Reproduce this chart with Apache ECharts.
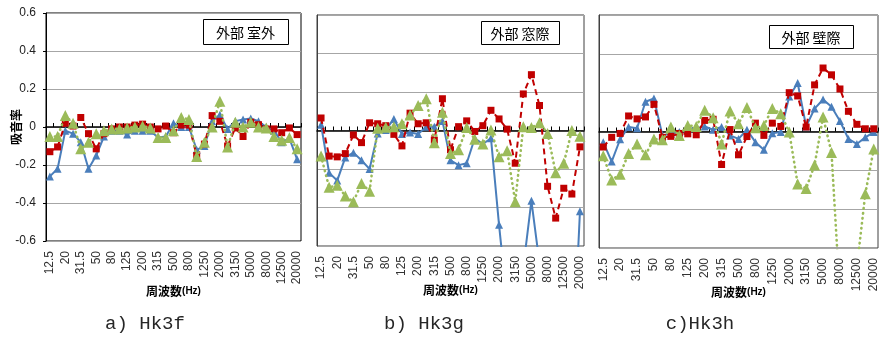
<!DOCTYPE html>
<html><head><meta charset="utf-8">
<script src="https://cdn.jsdelivr.net/npm/echarts@6/dist/echarts.min.js"></script>
<style>html,body{margin:0;padding:0;background:#fff}#c{width:885px;height:338px}</style>
</head><body><div id="c"></div>
<script>
// 1/3 octave band centre frequencies (Hz)
const freqs = ['12.5','16','20','25','31.5','40','50','63','80','100','125','160','200','250','315','400','500','630','800','1000','1250','1600','2000','2500','3150','4000','5000','6300','8000','10000','12500','16000','20000'];
const yTicks = [-0.6, -0.4, -0.2, 0, 0.2, 0.4, 0.6];

// a) Hk3f  外部 室外
const hk3fBlue  = [-0.26,-0.22,-0.02,-0.035,-0.08,-0.22,-0.15,-0.05,-0.02,-0.02,-0.04,-0.02,-0.02,-0.02,-0.055,-0.05,0.02,0.0,0.0,-0.12,-0.10,0.03,0.065,-0.01,0.03,0.04,0.045,0.03,0.0,-0.02,-0.08,-0.06,-0.17];
const hk3fRed   = [-0.13,-0.105,0.02,0.005,0.05,-0.035,-0.115,-0.035,-0.01,0.0,0.0,0.01,0.015,0.0,-0.01,0.005,-0.03,0.01,0.01,-0.15,-0.09,0.06,0.03,-0.1,-0.005,-0.05,0.025,0.012,-0.01,-0.01,-0.03,-0.005,-0.04];
const hk3fGreen = [-0.05,-0.05,0.06,0.02,-0.115,-0.08,-0.035,-0.02,-0.01,-0.01,-0.005,0.0,0.005,-0.005,-0.055,-0.055,-0.02,0.05,0.04,-0.155,-0.08,0.0,0.135,-0.105,0.025,0.0,0.025,0.0,-0.005,-0.05,-0.07,-0.055,-0.115];

// b) Hk3g  外部 窓際
const hk3gBlue  = [0.03,-0.22,-0.26,-0.14,-0.115,-0.155,-0.2,-0.015,0.003,0.06,-0.018,-0.01,-0.018,0.02,0.02,0.05,-0.155,-0.18,-0.17,-0.04,-0.07,-0.04,-0.49,-0.9,-1.0,-0.71,-0.365,-0.69,-1.0,-1.0,-1.0,-1.32,-0.42];
const hk3gRed   = [0.065,-0.133,-0.137,-0.12,-0.023,-0.063,0.04,0.035,0.025,-0.02,-0.08,0.09,0.035,0.04,-0.05,0.165,-0.10,0.02,0.05,-0.005,0.025,0.105,0.06,0.007,-0.17,0.19,0.29,0.13,-0.29,-0.455,-0.30,-0.33,-0.085];
const hk3gGreen = [-0.133,-0.295,-0.285,-0.34,-0.37,-0.275,-0.315,0.012,0.017,0.02,0.035,0.08,0.13,0.165,-0.063,0.095,-0.12,-0.1,0.015,-0.045,-0.07,0.003,-0.137,-0.105,-0.37,0.02,0.015,0.04,-0.015,-0.22,-0.17,0.0,-0.03];

// c) Hk3h  外部 壁際
const hk3hBlue  = [-0.055,-0.155,-0.04,0.023,0.017,0.153,0.17,-0.02,-0.012,-0.003,0.014,0.017,0.026,0.009,0.023,-0.02,-0.038,0.009,-0.055,-0.094,-0.009,-0.003,0.18,0.25,0.026,0.118,0.165,0.127,0.054,-0.038,-0.064,-0.03,-0.003];
const hk3hRed   = [-0.08,-0.03,-0.01,0.08,0.065,0.075,0.14,-0.03,-0.025,-0.01,-0.012,-0.017,0.057,0.063,-0.17,0.01,-0.12,-0.026,0.043,-0.02,0.043,0.026,0.2,0.183,0.023,0.24,0.327,0.292,0.219,0.104,0.037,0.014,0.014];
const hk3hGreen = [-0.125,-0.25,-0.22,-0.113,-0.064,-0.12,-0.038,-0.043,0.023,-0.02,0.031,0.026,0.11,0.071,-0.064,0.106,0.04,0.123,0.019,0.031,0.118,0.092,-0.003,-0.27,-0.294,-0.172,0.075,-0.108,-0.85,-1.0,-0.7,-0.32,-0.09];

const panelLabels = ['外部 室外', '外部 窓際', '外部 壁際'];
const captions = ['a) Hk3f', 'b) Hk3g', 'c)Hk3h'];
const panels = [
  [hk3fBlue, hk3fRed, hk3fGreen],
  [hk3gBlue, hk3gRed, hk3gGreen],
  [hk3hBlue, hk3hRed, hk3hGreen]
];

const grids = [
  {left: 46, top: 13, width: 255, height: 228},
  {left: 317, top: 15, width: 267, height: 231},
  {left: 599, top: 15, width: 279, height: 233}
];
const nameGaps = [44, 38, 38];
const boxes = [
  {x: 203, y: 19, w: 85, h: 25},
  {x: 481, y: 21, w: 78, h: 23},
  {x: 769, y: 25, w: 84, h: 23}
];
const capX = [145, 424, 700];

const styles = [
  {color: '#4A7EBB', symbol: 'triangle', symbolSize: 8, line: {type: 'solid', width: 2}},
  {color: '#C00000', symbol: 'rect', symbolSize: 7, line: {type: [6, 4], width: 2}},
  {color: '#9BBB59', symbol: 'triangle', symbolSize: 11, line: {type: [0.5, 4.5], width: 2.6, cap: 'round'}}
];

const xAxis = [], yAxis = [], series = [], graphic = [];
grids.forEach((g, i) => {
  g.show = true;
  g.borderColor = i === 0 ? '#000' : '#404040';
  g.borderWidth = 1;
  g.backgroundColor = 'transparent';
  // zero line axis with ticks
  xAxis.push({
    type: 'category', data: freqs, gridIndex: i, boundaryGap: true,
    axisLine: {show: true, onZero: true, lineStyle: {color: '#000', width: 1.5}},
    axisTick: {show: true, inside: true, length: 4, interval: 0, lineStyle: {color: '#000'}},
    axisLabel: {show: false}, splitLine: {show: false}
  });
  // bottom label axis
  xAxis.push({
    type: 'category', data: freqs, gridIndex: i, boundaryGap: true, position: 'bottom',
    axisLine: {show: false, onZero: false}, axisTick: {show: false}, splitLine: {show: false},
    axisLabel: {show: true, rotate: 90, interval: 1, margin: 10, fontSize: 12,
      fontFamily: 'Liberation Sans', color: '#333'},
    name: '{a|周波数}{b|(Hz)}', nameLocation: 'middle', nameGap: nameGaps[i], nameMoveOverlap: false,
    nameTextStyle: {rich: {
      a: {fontFamily: 'Noto Sans CJK JP', fontWeight: 'bold', fontSize: 12, color: '#000'},
      b: {fontFamily: 'Liberation Sans', fontWeight: 'bold', fontSize: 10, color: '#000'}
    }}
  });
  yAxis.push({
    type: 'value', gridIndex: i, min: -0.6, max: 0.6, interval: 0.2,
    axisLine: {show: true, lineStyle: {color: i === 0 ? '#000' : '#404040'}},
    axisTick: {show: i === 0, length: 3, lineStyle: {color: '#000'}},
    axisLabel: {show: i === 0, fontSize: 12, fontFamily: 'Liberation Sans', color: '#222', margin: 10,
      formatter: v => String(Math.round(v * 10) / 10)},
    splitLine: {show: true, lineStyle: {color: '#A6A6A6', width: 1}},
    name: i === 0 ? '吸音率' : '', nameLocation: 'middle', nameGap: 24, nameMoveOverlap: false,
    nameTextStyle: {fontFamily: 'Noto Sans CJK JP', fontWeight: 'bold', fontSize: 12, color: '#000'}
  });
  panels[i].forEach((data, k) => {
    const s = styles[k];
    series.push({
      type: 'line', xAxisIndex: 2 * i, yAxisIndex: i, data: data, clip: true,
      symbol: s.symbol, symbolSize: s.symbolSize, showAllSymbol: true,
      itemStyle: {color: s.color},
      lineStyle: Object.assign({color: s.color}, s.line),
      z: 2 + k, animation: false
    });
  });
  const b = boxes[i];
  graphic.push({
    type: 'group', z: 100, children: [
      {type: 'rect', shape: {x: b.x + 0.5, y: b.y + 0.5, width: b.w, height: b.h},
        style: {fill: '#fff', stroke: '#000', lineWidth: 1}},
      {type: 'text', x: b.x + b.w / 2, y: b.y + b.h / 2 + 1,
        style: {text: panelLabels[i], fontSize: 14, fontFamily: 'Noto Sans CJK JP',
          align: 'center', verticalAlign: 'middle', fill: '#000'}}
    ]
  });
  graphic.push({
    type: 'text', x: capX[i], y: 324,
    style: {text: captions[i], fontSize: 19, fontFamily: 'Liberation Mono',
      align: 'center', verticalAlign: 'middle', fill: '#262626'}
  });
});

const chart = echarts.init(document.getElementById('c'));
chart.setOption({
  animation: false,
  backgroundColor: '#fff',
  grid: grids, xAxis: xAxis, yAxis: yAxis, series: series, graphic: graphic
});
</script></body></html>
